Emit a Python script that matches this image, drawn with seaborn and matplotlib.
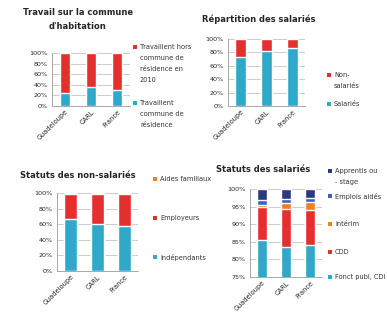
import numpy as np
import pandas as pd
import matplotlib
matplotlib.use("Agg")
import matplotlib.pyplot as plt
from matplotlib.patches import Rectangle
from matplotlib.ticker import PercentFormatter, FixedLocator
import seaborn as sns

# ── DATA ───────────────────────────────────────────────────
zones = ["Guadeloupe", "CARL", "France"]

# 1. Travail sur la commune d'habitation (%)
commune_meme = [25, 35, 30]
commune_hors = [75, 65, 70]

# 2. Répartition des salariés (%)
salaries     = [73, 81.5, 86.5]
non_salaries = [27, 18.5, 13.5]

# 3. Statuts des non-salariés (%)
independants = [66.5, 60.5, 58]
employeurs   = [32.0, 38.7, 41.2]
aides_fam    = [1.5, 0.8, 0.8]

# 4. Statuts des salariés (%)
fonct_cdi  = [85.4, 83.5, 84.2]
cdd        = [9.4, 10.7, 9.8]
interim    = [0.6, 1.7, 2.4]
emp_aides  = [1.6, 1.4, 1.0]
apprentis  = [3.0, 2.7, 2.6]

RED, CYAN, ORANGE = '#e3302f', '#2fa8c9', '#f0801e'
NAVY, BLUE = '#2b3a80', '#3c60c2'

sns.set_style("white")
plt.rcParams['font.family'] = ['DejaVu Sans']
W, H = 387, 321
fig = plt.figure(figsize=(W/100, H/100), dpi=100)

def px_axes(x0, y0, x1, y1):
    return fig.add_axes([x0/W, 1 - y1/H, (x1-x0)/W, (y1-y0)/H])

def stacked(ax, layers, colors, width, ylim, step):
    # draw cumulative totals from top down so each layer overlaps the previous
    cum = np.cumsum(np.array(layers, dtype=float), axis=0)
    for vals, col in zip(cum[::-1], colors[::-1]):
        df = pd.DataFrame({'zone': zones, 'v': vals})
        sns.barplot(data=df, x='zone', y='v', color=col, width=width,
                    saturation=1, ax=ax, zorder=3)
    ax.set_ylim(*ylim)
    ax.set_xlim(-0.5, 2.5)
    ax.yaxis.set_major_locator(FixedLocator(np.arange(ylim[0], ylim[1]+0.1, step)))
    ax.yaxis.set_major_formatter(PercentFormatter(decimals=0))
    ax.grid(axis='y', color='#b8b8b8', lw=0.5, zorder=0)
    ax.set_xlabel(''); ax.set_ylabel('')
    for s in ['top', 'right']:
        ax.spines[s].set_visible(False)
    for s in ['left', 'bottom']:
        ax.spines[s].set_color('#9a9a9a'); ax.spines[s].set_linewidth(0.6)
    ax.tick_params(axis='y', labelsize=4.6, length=2, width=0.5, color='#9a9a9a', pad=1)
    ax.tick_params(axis='x', labelsize=4.8, length=0, pad=2)
    ax.set_xticks(range(3))
    ax.set_xticklabels(zones, rotation=45, ha='right', rotation_mode='anchor')
    ax.set_xticks([-0.5, 0.5, 1.5, 2.5], minor=True)
    ax.tick_params(axis='x', which='minor', length=2, width=0.5, color='#9a9a9a')

def legend(x, ys, labels, colors, linesp=2.0):
    # legend squares aligned with first text line, placed in figure pixels
    for y, lab, col in zip(ys, labels, colors):
        fig.patches.append(Rectangle((x/W, 1 - (y+2)/H), 4/W, 4/H, facecolor=col,
                                     edgecolor='none', transform=fig.transFigure))
        fig.text((x+7)/W, 1 - (y-3)/H, lab, fontsize=4.8, va='top', ha='left',
                 linespacing=linesp, color='#333333')

TITLE = dict(fontsize=6, fontweight='bold')

# Panel 1
ax1 = px_axes(52, 53, 130, 106)
stacked(ax1, [commune_meme, commune_hors], [CYAN, RED], 0.38, (0, 100), 20)
ax1.set_title("Travail sur la commune\nd'habitation", x=0.33, pad=17, linespacing=1.8, **TITLE)
legend(133, [47, 103], ["Travaillent hors\ncommune de\nrésidence en\n2010",
                        "Travaillent\ncommune de\nrésidence"], [RED, CYAN])

# Panel 2
ax2 = px_axes(228, 39, 305, 106)
stacked(ax2, [salaries, non_salaries], [CYAN, RED], 0.42, (0, 100), 20)
ax2.set_title("Répartition des salariés", x=0.40, pad=12, **TITLE)
legend(327, [75, 104], ["Non-\nsalariés", "Salariés"], [RED, CYAN])

# Panel 3
ax3 = px_axes(57, 193, 138, 271)
stacked(ax3, [independants, employeurs, aides_fam], [CYAN, RED, ORANGE], 0.5, (0, 100), 20)
ax3.set_title("Statuts des non-salariés", x=0.26, pad=11, **TITLE)
legend(153, [179, 218, 257], ["Aides familiaux", "Employeurs", "Indépendants"],
       [ORANGE, RED, CYAN])

# Panel 4
ax4 = px_axes(250, 189, 322, 277)
stacked(ax4, [fonct_cdi, cdd, interim, emp_aides, apprentis],
        [CYAN, RED, ORANGE, BLUE, NAVY], 0.45, (75, 100), 5)
ax4.set_title("Statuts des salariés", x=0.18, pad=12, **TITLE)
legend(328, [171, 196, 224, 252, 277],
       ["Apprentis ou\n- stage", "Emplois aidés", "Intérim", "CDD", "Fonct publ, CDI"],
       [NAVY, BLUE, ORANGE, RED, CYAN])

fig.savefig("out.png", dpi=100)
